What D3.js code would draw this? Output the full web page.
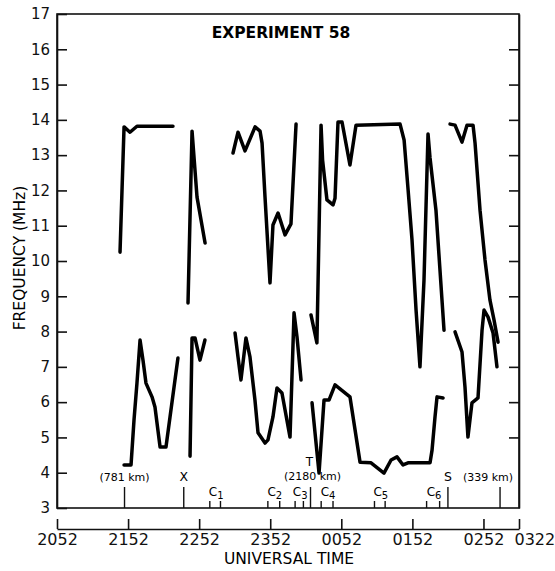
<!DOCTYPE html>
<html>
<head>
<meta charset="utf-8">
<script src="https://cdn.jsdelivr.net/npm/d3@7"></script>
<style>
  body { margin: 0; background: #fff; }
  svg { display: block; font-family: "DejaVu Sans", sans-serif; }
  .axis path, .axis line { stroke: #111; stroke-width: 1.6; }
  .axis text { fill: #111; }
</style>
</head>
<body>
<svg width="555" height="571"></svg>
<script>
// time = minutes after 2052 UT, frequency in MHz
const timeTicks = [0, 60, 120, 180, 240, 300, 360, 390];
const timeLabels = ["2052", "2152", "2252", "2352", "0052", "0152", "0252", "0322"];
const freqTicks = d3.range(3, 18);

const upper1 = [[53.2, 10.25], [56.6, 13.8], [61.6, 13.65], [67.5, 13.82], [97.9, 13.82]];
const upper2 = [[110.6, 8.81], [114.0, 13.68], [118.2, 11.81], [125.0, 10.51]];
const upper3 = [[148.6, 13.06], [152.8, 13.65], [158.7, 13.12], [167.2, 13.8], [171.4, 13.68],
  [173.1, 13.34], [175.6, 11.81], [179.8, 9.38], [182.3, 11.02], [186.6, 11.36],
  [192.5, 10.74], [197.5, 11.05], [201.8, 13.88]];
const upper4 = [[214.4, 8.47], [219.4, 7.68], [222.9, 13.85], [224.2, 12.86], [227.9, 11.73],
  [233.0, 11.59], [234.7, 11.78], [237.2, 13.94], [240.6, 13.94], [247.3, 12.72],
  [252.4, 13.85], [289.6, 13.88], [293.0, 13.43], [296.4, 12.01], [299.7, 10.59],
  [303.1, 8.61], [306.4, 7.0], [309.8, 9.46], [313.2, 13.6], [314.9, 12.92],
  [319.9, 11.44], [325.0, 8.89], [326.7, 8.04]];
const upper5 = [[331.8, 13.88], [336.0, 13.85], [341.9, 13.37], [346.1, 13.85], [351.2, 13.85],
  [352.9, 13.34], [357.1, 11.44], [361.3, 10.03], [365.5, 8.89], [368.9, 8.33], [372.3, 7.7]];

const lower1 = [[56.6, 4.22], [62.5, 4.22], [65.0, 5.49], [67.5, 6.54], [70.1, 7.76],
  [72.6, 7.19], [75.1, 6.54], [80.2, 6.15], [82.7, 5.86], [87.0, 4.73], [92.0, 4.73],
  [95.4, 5.58], [98.8, 6.43], [102.1, 7.25]];
const lower2 = [[112.3, 4.47], [114.0, 7.82], [116.5, 7.82], [120.7, 7.19], [124.9, 7.76]];
const lower3 = [[150.3, 7.96], [152.8, 7.28], [155.3, 6.63], [159.5, 7.82], [162.9, 7.28],
  [167.1, 6.06], [169.7, 5.13], [175.6, 4.84], [178.1, 4.93], [182.3, 5.58], [185.7, 6.4],
  [189.9, 6.26], [196.7, 5.01], [200.1, 8.53], [202.6, 7.85], [206.0, 6.63]];
const lower4 = [[215.3, 5.98], [221.2, 3.99], [225.4, 6.06], [229.6, 6.06], [234.7, 6.49],
  [247.3, 6.15], [255.8, 4.3], [265.1, 4.28], [276.0, 3.99], [282.0, 4.36], [287.0, 4.45],
  [292.1, 4.22], [296.3, 4.28], [314.9, 4.28], [316.6, 4.64], [319.1, 5.58], [320.8, 6.15],
  [325.9, 6.12]];
const lower5 = [[336.0, 7.99], [341.9, 7.42], [344.4, 6.43], [346.9, 5.01], [350.3, 5.98],
  [355.4, 6.12], [358.8, 8.04], [360.5, 8.61], [363.9, 8.41], [368.1, 7.96], [371.4, 7.0]];

const segments = [upper1, upper2, upper3, upper4, upper5, lower1, lower2, lower3, lower4, lower5];

// events marked along the 3 MHz line
const eventTimes = [57, 107, 214, 330, 374];
const eventLabels = ["(781 km)", "X", "(2180 km)", "S", "(339 km)"];
const cPairs = [[129, 138], [178, 188], [201, 208], [223, 233], [268, 277], [312, 323]];
const cNames = ["1", "2", "3", "4", "5", "6"];

const svg = d3.select("svg");
const x = d3.scaleLinear().domain([0, 390]).range([57, 519]);
const y = d3.scaleLinear().domain([3, 17]).range([508, 14]);

// frame
svg.append("rect")
  .attr("x", x(0)).attr("y", y(17))
  .attr("width", x(390) - x(0)).attr("height", y(3) - y(17))
  .attr("fill", "none").attr("stroke", "#111").attr("stroke-width", 1.6);

svg.append("g")
  .attr("class", "axis")
  .attr("transform", `translate(${x(0)},0)`)
  .call(d3.axisLeft(y).tickValues(freqTicks).tickSize(-10).tickSizeOuter(0).tickPadding(7))
  .style("font-size", "15px")
  .style("font-family", "DejaVu Sans");

svg.append("g")
  .attr("class", "axis")
  .attr("transform", `translate(${x(390)},0)`)
  .call(d3.axisRight(y).tickValues(d3.range(5, 17)).tickSize(-10).tickSizeOuter(0).tickFormat(""));

// universal time axis
const timeAxisG = svg.append("g")
  .attr("class", "axis")
  .attr("transform", "translate(0,529)")
  .call(d3.axisBottom(x).tickValues(timeTicks)
    .tickFormat((d, i) => timeLabels[i])
    .tickSize(-10).tickSizeOuter(0).tickPadding(5))
  .style("font-size", "16px")
  .style("font-family", "DejaVu Sans");
timeAxisG.selectAll(".tick text")
  .filter(d => d === 390)
  .attr("text-anchor", "start")
  .attr("x", -5);

// event ticks
const eventDx = { "(781 km)": 0, "X": 0, "(2180 km)": 2, "S": 0, "(339 km)": -12 };
svg.append("g").selectAll("line")
  .data(eventTimes)
  .join("line")
  .attr("x1", d => x(d)).attr("x2", d => x(d))
  .attr("y1", y(3)).attr("y2", y(3) - 21)
  .attr("stroke", "#111").attr("stroke-width", 1.4);
svg.append("g").selectAll("text")
  .data(eventLabels)
  .join("text")
  .attr("x", (d, i) => x(eventTimes[i]) + eventDx[d])
  .attr("y", d => d === "(2180 km)" ? 480 : 481)
  .attr("text-anchor", "middle")
  .style("font-size", d => d.length > 1 ? "11px" : "12.5px")
  .text(d => d);
svg.append("text")
  .attr("x", x(eventTimes[2]) - 1)
  .attr("y", 466)
  .attr("text-anchor", "middle")
  .style("font-size", "12px")
  .text("T");

svg.append("g").selectAll("line")
  .data(cPairs.flat())
  .join("line")
  .attr("x1", d => x(d)).attr("x2", d => x(d))
  .attr("y1", y(3)).attr("y2", y(3) - 7)
  .attr("stroke", "#111").attr("stroke-width", 1.4);
const cText = svg.append("g").selectAll("text")
  .data(cPairs)
  .join("text")
  .attr("x", d => (x(d[0]) + x(d[1])) / 2 + 1)
  .attr("y", 496)
  .attr("text-anchor", "middle")
  .style("font-size", "12px");
cText.append("tspan").text("C");
cText.append("tspan")
  .attr("dy", 3)
  .style("font-size", "10px")
  .text((d, i) => cNames[i]);

// curves
const line = d3.line().x(d => x(d[0])).y(d => y(d[1]));
svg.append("g").selectAll("path")
  .data(segments)
  .join("path")
  .attr("d", line)
  .attr("fill", "none")
  .attr("stroke", "#000")
  .attr("stroke-width", 3.5)
  .attr("stroke-linejoin", "round")
  .attr("stroke-linecap", "round");

// titles
svg.append("text")
  .attr("x", 281).attr("y", 38)
  .attr("text-anchor", "middle")
  .style("font-size", "15.5px")
  .attr("font-weight", "bold")
  .text("EXPERIMENT 58");

svg.append("text")
  .attr("transform", "rotate(-90)")
  .attr("x", -258).attr("y", 25)
  .attr("text-anchor", "middle")
  .style("font-size", "15.5px")
  .text("FREQUENCY (MHz)");

svg.append("text")
  .attr("x", 289).attr("y", 564)
  .attr("text-anchor", "middle")
  .style("font-size", "15.5px")
  .text("UNIVERSAL TIME");
</script>
</body>
</html>
